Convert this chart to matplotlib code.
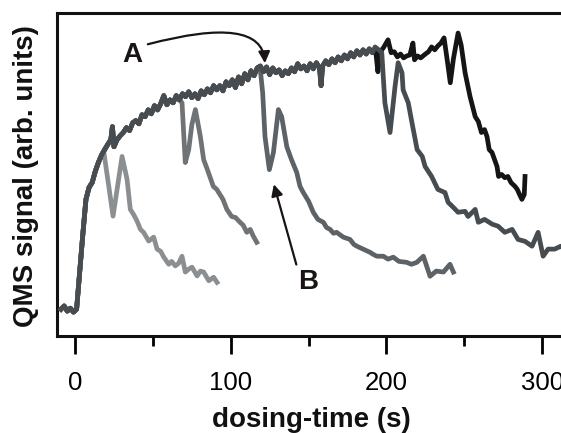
import matplotlib.pyplot as plt
from matplotlib.patches import FancyArrowPatch

plt.rcParams['font.family'] = ['Liberation Sans', 'DejaVu Sans']

# common rising part shared by all dosing runs (time s, signal arb.)
env_t = [-9, -7, -5, -3, -1, 1, 3, 5, 7, 9, 11, 13, 15, 17, 19, 21, 23, 24, 25, 27,
         29, 31, 33, 35, 37, 39, 41, 43, 45, 47, 49, 51, 53, 55, 57, 59, 61, 63, 65, 67,
         69, 71, 73, 75, 77, 79, 81, 83, 85, 87, 89, 91, 93, 95, 97, 99, 101, 103, 105, 107,
         109, 111, 113, 115, 117, 119, 121, 123, 125, 127, 129, 131, 133, 135, 137, 139, 141, 143, 145, 147,
         149, 151, 153, 155, 157, 158, 159, 161, 163, 165, 167, 169, 171, 173, 175, 177, 179, 181, 183, 185,
         187, 189, 191]
env_s = [8.3, 9.3, 7.7, 8.6, 7.4, 8.3, 20, 31.5, 42.3, 46, 47.5, 51, 53.7, 56, 57.7, 59.3, 60.8, 64.8, 58.6, 60.8,
         62, 63, 64.5, 63.6, 66, 66.7, 65.7, 68.5, 67.9, 70, 68.8, 71.3, 70, 71.9, 74.4, 71.6, 73.1, 72.2, 74.4, 73.1,
         75, 74.1, 75.6, 73.8, 75, 73.5, 75.9, 74.7, 76.5, 75.3, 77.5, 76.2, 77.5, 75.9, 78.7, 77.5, 79.3, 76.9, 80.2, 78.1,
         81.2, 79.3, 82.1, 80.6, 83, 83.6, 81.8, 83.3, 80.9, 83, 81.5, 82.4, 80.6, 82.1, 81.2, 83, 81.8, 84.3, 82.7, 83.6,
         82.1, 84.3, 82.7, 84.6, 83, 77.5, 83.6, 85.2, 84, 85.8, 84.6, 86.4, 85.2, 87, 85.8, 87.7, 86.4, 88.3, 87, 88.6,
         87.3, 88.9, 87.7]

# after each dosing stop
run1_t = [18.4, 21.5, 24.4, 27, 30.2, 33.4, 35.5, 37.5, 39.8, 42, 44, 47.3, 50.5, 52.7, 55, 57, 60.2, 62, 64.4, 66.5,
          68.7, 70.8, 73, 75.1, 78.4, 80.5, 82.6, 85.9, 89, 91.2]
run1_s = [57.2, 46.9, 37.1, 45.4, 55.6, 48.5, 39.2, 37.7, 35.6, 33, 32.1, 29.4, 30.6, 26.9, 26.2, 24.4, 22.2, 23.1, 21.7, 22.5,
          24.7, 19.8, 20.7, 21.3, 18.6, 20.1, 19.8, 17.1, 18.2, 16.6]

run2_t = [68.7, 70.8, 73, 75, 77.3, 80.5, 82.6, 85, 88.8, 91, 95, 97.5, 100.6, 103, 106, 108, 110.3, 112.5, 114.5, 116.7]
run2_s = [72.2, 53.7, 57.7, 65.4, 70.1, 61.7, 54.6, 51.5, 46.3, 45.4, 42.3, 39.2, 37, 36.7, 35.2, 34.3, 32.1, 33, 30.9, 29]

run3_t = [118.8, 120.5, 122, 124.8, 127.4, 130.6, 132.7, 136, 139, 142.4, 144.5, 146.6, 150, 153, 156, 159.5, 161.5, 163.8, 166, 168,
          172.3, 176.6, 179, 181, 185, 189.5, 191.4, 193.8, 198, 201, 204.4, 208, 213, 216, 219.5, 223.7, 228, 232, 236.6, 240.8,
          243]
run3_s = [83.3, 75.3, 61.7, 51.5, 56.8, 70.1, 67.9, 58.6, 54.6, 50.6, 46.3, 44.4, 41.7, 38.3, 36.1, 35.2, 33.6, 33, 31.8, 32.1,
          30.6, 29.9, 28.4, 27.8, 26.9, 25.9, 25.3, 24.7, 24.7, 23.8, 24.4, 23.1, 22.8, 22.2, 22.8, 24.7, 18.5, 20.1, 19.8, 22.2,
          19.8]

run4_t = [192.7, 195, 197, 199, 202.3, 205.5, 207.5, 210, 210.7, 214, 216.4, 219.7, 223, 224.8, 229, 233, 237.6, 239.6, 243, 246,
          250.5, 252.4, 257, 259, 263, 268, 271.7, 276, 280.7, 284.5, 289, 293.5, 297.4, 300.6, 303.8, 308, 312, 316]
run4_s = [89.5, 88.6, 87.7, 72.2, 63, 77.2, 84.6, 81.5, 76.2, 72.2, 66, 57.7, 55.6, 52.5, 49.4, 45.4, 44.4, 41.4, 39.8, 38.3,
          38.6, 37, 39.2, 35.2, 36.1, 34.6, 34, 32.1, 33, 29.9, 29.3, 27.8, 32.1, 24.7, 26.9, 26.9, 27.8, 26.2]

run5_t = [193, 194.5, 196, 198, 201, 203, 205, 207, 209, 211, 213, 215, 217, 218, 220, 222, 225, 227, 229, 231,
          233, 235, 237, 239, 241, 243, 246, 248, 250.5, 253.7, 257, 259, 261, 263, 264.6, 266, 267.8, 271, 272, 274,
          276, 278, 280, 282.6, 284, 285.5, 287, 288.5, 289]
run5_s = [88.6, 81.8, 88, 89.2, 91.7, 87.7, 88, 86.4, 87.3, 86.1, 86.7, 87, 90.7, 85.5, 86.7, 86.1, 87.3, 88, 89.5, 88.6,
          89.8, 90.7, 92.3, 85.5, 78.4, 85.8, 93.8, 90, 81.5, 74.1, 67.9, 66.4, 63, 63.9, 61.7, 57.7, 56.8, 52.5, 49.4, 50,
          49, 49.4, 47.5, 46.3, 45.4, 43.8, 42.3, 43.8, 49.4]

runs = [(run5_t, run5_s, '#151515'),
        (run1_t, run1_s, '#8c8f91'),
        (run2_t, run2_s, '#6f7376'),
        (run3_t, run3_s, '#5d6266'),
        (run4_t, run4_s, '#474c50')]

fig = plt.figure(figsize=(5.61, 4.33), dpi=100)
ax = fig.add_axes([57.3 / 561, 97 / 433, 516 / 561, 323 / 433])

for i, (tt, ss, col) in enumerate(runs):
    x = [t for t in env_t if t < tt[0]] + tt
    y = [s for t, s in zip(env_t, env_s) if t < tt[0]] + ss
    ax.plot(x, y, color=col, lw=3.4, solid_joinstyle='round', zorder=i + 1)

ax.set_xlim(-11.4, 320)
ax.set_ylim(0, 100)
ax.set_yticks([])
ax.set_xticks([0, 100, 200, 300])
ax.set_xticks([50, 150, 250], minor=True)
ax.tick_params(axis='x', which='major', direction='out', length=13, width=2, labelsize=18.5, pad=12)
ax.tick_params(axis='x', which='minor', direction='out', length=7, width=2)
for sp in ax.spines.values():
    sp.set_linewidth(2.2)
    sp.set_color('#111111')

fig.text(311.5 / 561, 1 - 427 / 433, 'dosing-time (s)', ha='center', va='baseline',
         fontsize=20, fontweight='bold', color='#111111')
fig.text(26 / 561, 1 - 176.5 / 433, 'QMS signal (arb. units)', ha='center', va='center',
         rotation=90, fontsize=20, fontweight='bold', color='#111111')

# annotations
ax.text(36.6, 87, 'A', ha='center', va='center', fontsize=20, fontweight='bold', color='#1a1414')
ax.text(149.6, 16.7, 'B', ha='center', va='center', fontsize=20, fontweight='bold', color='#1a1414')
ax.add_patch(FancyArrowPatch((45, 90.1), (122, 83.6), arrowstyle='-|>', mutation_scale=17,
                             connectionstyle='angle3,angleA=15,angleB=90', lw=1.6, color='#1a1414', zorder=10))
ax.add_patch(FancyArrowPatch((142.6, 21.3), (127.2, 47.8), arrowstyle='-|>', mutation_scale=17,
                             lw=1.6, color='#1a1414', zorder=10))

plt.savefig('out.png', dpi=100)
